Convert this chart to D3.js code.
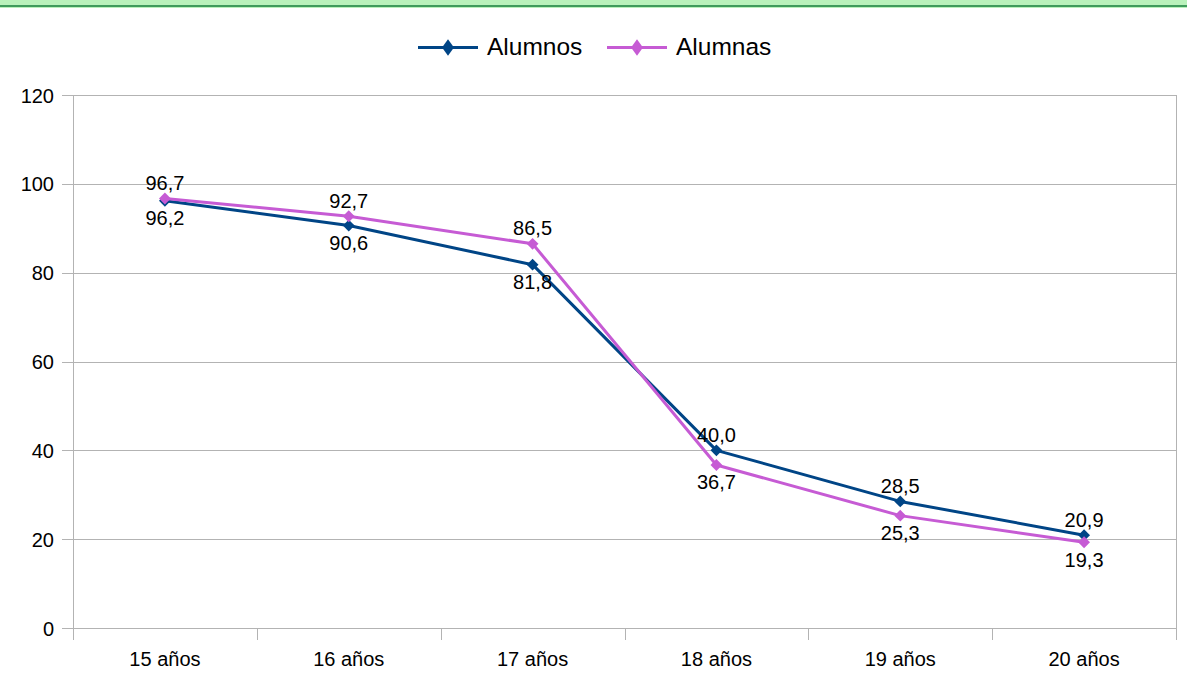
<!DOCTYPE html>
<html>
<head>
<meta charset="utf-8">
<script src="https://cdn.jsdelivr.net/npm/d3@7"></script>
<style>
  html, body { margin: 0; padding: 0; background: #fff; }
  svg { display: block; font-family: "Liberation Sans", Arial, sans-serif; }
</style>
</head>
<body>
<svg id="chart" width="1187" height="683"></svg>
<script>
// Porcentaje de escolarización por edad
const categories = ["15 años", "16 años", "17 años", "18 años", "19 años", "20 años"];
const alumnos = [96.2, 90.6, 81.8, 40.0, 28.5, 20.9];
const alumnas = [96.7, 92.7, 86.5, 36.7, 25.3, 19.3];
const yTicks = [0, 20, 40, 60, 80, 100, 120];
const seriesNames = ["Alumnos", "Alumnas"];
const seriesColors = ["#004586", "#c65bd4"];

(function () {
const svg = d3.select("#chart");
const plotL = 73, plotR = 1176, plotT = 95, plotB = 628;

// Franja decorativa superior
svg.append("rect").attr("x", 0).attr("y", 0).attr("width", 1187).attr("height", 8).attr("fill", "#b9f2bb");
svg.append("rect").attr("x", 0).attr("y", 5).attr("width", 1187).attr("height", 2).attr("fill", "#3f9b5c");

const x = d3.scaleBand().domain(categories).range([plotL, plotR]);
const y = d3.scaleLinear().domain([0, 120]).range([plotB, plotT]);

// Rejilla horizontal
svg.append("g").selectAll("line").data(yTicks).join("line")
  .attr("x1", plotL - 11).attr("x2", plotR)
  .attr("y1", d => Math.round(y(d)) + 0.5).attr("y2", d => Math.round(y(d)) + 0.5)
  .attr("stroke", "#b3b3b3").attr("stroke-width", 1);

// Ejes verticales (izquierdo y borde derecho)
svg.append("line").attr("x1", plotL + 0.5).attr("x2", plotL + 0.5).attr("y1", plotT).attr("y2", plotB + 12)
  .attr("stroke", "#b3b3b3");
svg.append("line").attr("x1", plotR + 0.5).attr("x2", plotR + 0.5).attr("y1", plotT).attr("y2", plotB + 12)
  .attr("stroke", "#b3b3b3");

// Marcas entre categorías
const bounds = categories.slice(1).map(c => x(c));
svg.append("g").selectAll("line").data(bounds).join("line")
  .attr("x1", d => Math.round(d) + 0.5).attr("x2", d => Math.round(d) + 0.5)
  .attr("y1", plotB).attr("y2", plotB + 12)
  .attr("stroke", "#b3b3b3");

// Etiquetas del eje Y
svg.append("g").selectAll("text").data(yTicks).join("text")
  .attr("x", plotL - 19).attr("y", d => y(d) + 7.5)
  .attr("text-anchor", "end").attr("font-size", 20).attr("fill", "#000")
  .text(d => d);

// Etiquetas del eje X
svg.append("g").selectAll("text").data(categories).join("text")
  .attr("x", d => x(d) + x.bandwidth() / 2).attr("y", 666)
  .attr("text-anchor", "middle").attr("font-size", 20).attr("fill", "#000")
  .text(d => d);

const cx = c => x(c) + x.bandwidth() / 2;
const lineGen = d3.line().x((d, i) => cx(categories[i])).y(d => y(d));

[alumnos, alumnas].forEach((vals, s) => {
  const g = svg.append("g");
  g.append("path").datum(vals).attr("d", lineGen)
    .attr("fill", "none").attr("stroke", seriesColors[s]).attr("stroke-width", 3)
    .attr("stroke-linejoin", "round");
  g.selectAll("path.pt").data(vals).join("path").attr("class", "pt")
    .attr("transform", (d, i) => `translate(${cx(categories[i])},${y(d)}) rotate(45)`)
    .attr("d", d3.symbol().type(d3.symbolSquare).size(70))
    .attr("fill", seriesColors[s]);
});

// Rótulos de valores: el mayor arriba, el menor abajo
const fmt = v => v.toFixed(1).replace(".", ",");
categories.forEach((c, i) => {
  const a = alumnos[i], b = alumnas[i];
  const hi = Math.max(a, b), lo = Math.min(a, b);
  svg.append("text").attr("x", cx(c)).attr("y", y(hi) - 8.5)
    .attr("text-anchor", "middle").attr("font-size", 20).text(fmt(hi));
  svg.append("text").attr("x", cx(c)).attr("y", y(lo) + 24.5)
    .attr("text-anchor", "middle").attr("font-size", 20).text(fmt(lo));
});

// Leyenda
const legendX = [418, 607];
seriesNames.forEach((n, s) => {
  const g = svg.append("g").attr("transform", `translate(${legendX[s]},47.5)`);
  g.append("line").attr("x1", 0).attr("x2", 60).attr("y1", 0).attr("y2", 0)
    .attr("stroke", seriesColors[s]).attr("stroke-width", 3);
  g.append("path").attr("transform", "translate(30,0) scale(0.8,1.1) rotate(45)")
    .attr("d", d3.symbol().type(d3.symbolSquare).size(110)).attr("fill", seriesColors[s]);
  g.append("text").attr("x", 69).attr("y", 7.5).attr("font-size", 24.5).text(n);
});
})();
</script>
</body>
</html>
